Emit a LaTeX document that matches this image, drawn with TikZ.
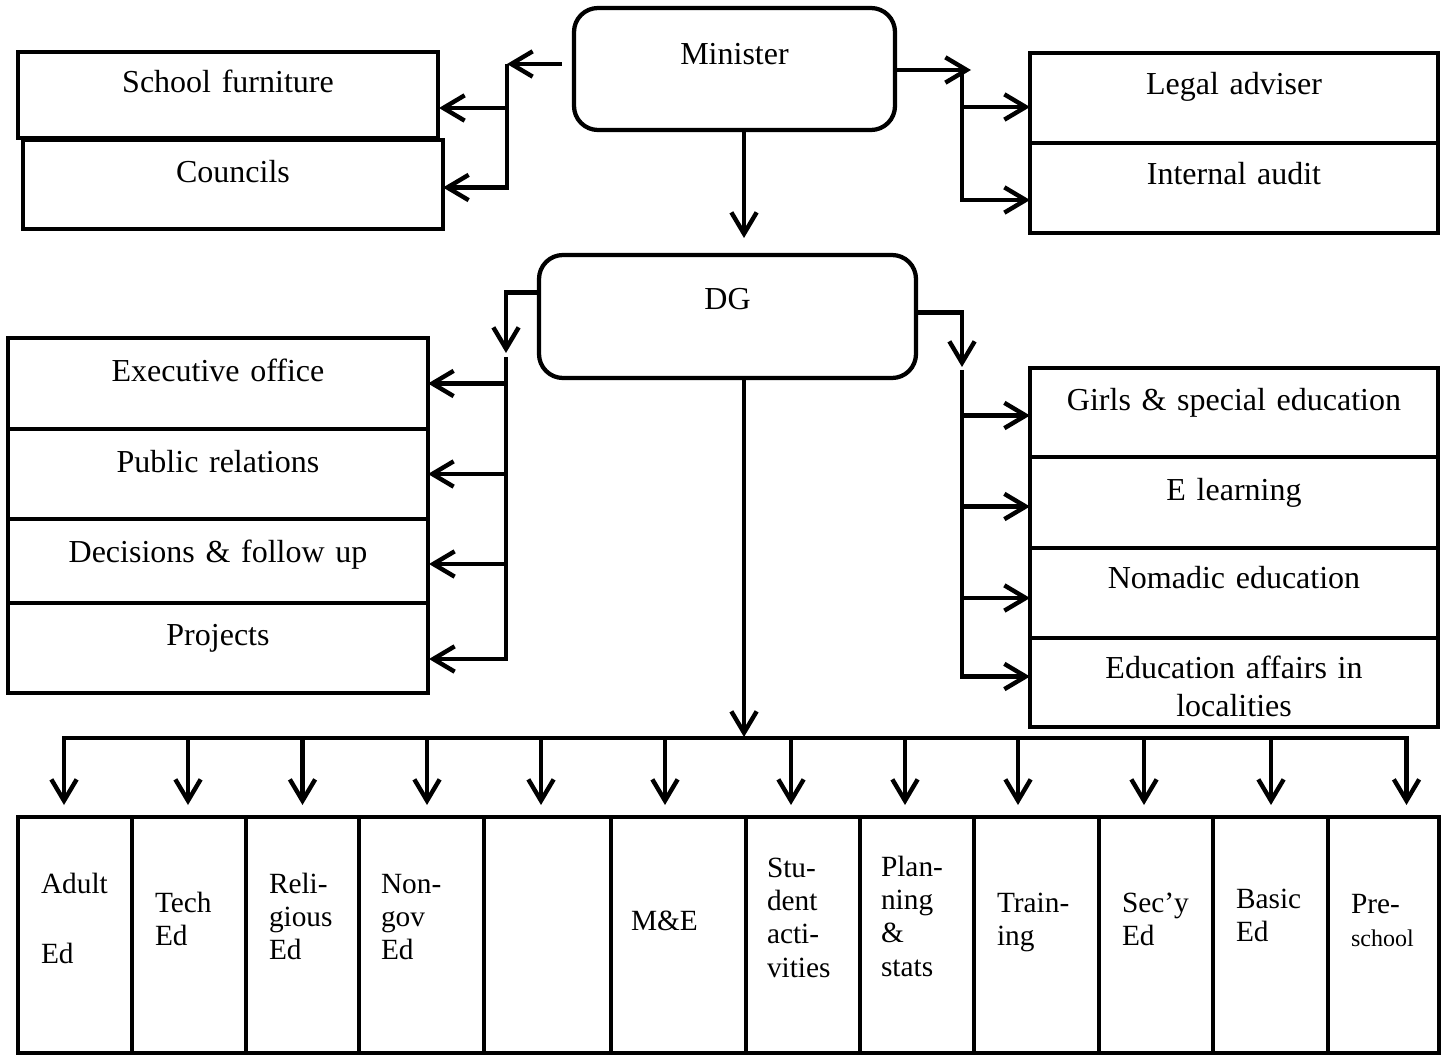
\documentclass[tikz,border=0pt]{standalone}
\usepackage{fontspec}
\setmainfont{Liberation Serif}
\usetikzlibrary{arrows.meta,calc}
\tikzset{
  geo/.code n args={3}{%
    \pgfmathsetmacro\gW{#1*0.75}%
    \pgfmathsetmacro\gT{#3*0.75}%
    \pgfmathsetmacro\gD{(#2-#3)*0.75}%
    \edef\gtmp{\noexpand\pgfkeysalso{minimum width=\gW pt,text width=\gW pt,text height=\gT pt,text depth=\gD pt}}\gtmp},
  geob/.code n args={4}{%
    \pgfmathsetmacro\gW{#1*0.75}%
    \pgfmathsetmacro\gTW{(#1-2*#4)*0.75}%
    \pgfmathsetmacro\gP{#4*0.75}%
    \pgfmathsetmacro\gT{#3*0.75}%
    \pgfmathsetmacro\gD{(#2-#3)*0.75}%
    \edef\gtmp{\noexpand\pgfkeysalso{minimum width=\gW pt,text width=\gTW pt,inner xsep=\gP pt,text height=\gT pt,text depth=\gD pt}}\gtmp},
  box/.style={draw, line width=3.6pt, rectangle, anchor=north west, inner sep=0pt, outer sep=0pt, align=center, font=\fontsize{24}{28.5}\selectfont},
  rbox/.style={draw, line width=3.2pt, rectangle, rounded corners=18pt, anchor=north west, inner sep=0pt, outer sep=0pt, align=center, font=\fontsize{24}{28.5}\selectfont},
  sbox/.style={draw, line width=3.6pt, rectangle, anchor=north west, inner ysep=0pt, outer sep=0pt, align=left, font=\fontsize{22}{25}\selectfont\hyphenpenalty10000},
  conn/.style={line width=3.3pt},
  arr/.style={line width=3.3pt, -{Straight Barb[length=16pt,width=19pt]}},
  arrtwo/.style={line width=3.3pt, {Straight Barb[length=16pt,width=19pt]}-{Straight Barb[length=16pt,width=19pt]}}
}
\begin{document}
\begin{tikzpicture}[x=0.75pt,y=-0.75pt]
\useasboundingbox (0,0) rectangle (1445,1055);

% top level
\node[rbox, geo={321}{122}{57}] (minister) at (574,8) {Minister};
\node[box, geo={420}{86}{41}] (sf) at (18,52) {School furniture};
\node[box, geo={420}{89}{43}] (co) at (23,140) {Councils};
\node[box, geo={408}{90}{42}] (la) at (1030,53) {Legal adviser};
\node[box, geo={408}{90}{42}] (ia) at (1030,143) {Internal audit};

% DG level
\node[rbox, geo={377}{123}{55}] (dg) at (539,255) {DG};
\node[box, geo={420}{91}{44}] (eo) at (8,338) {Executive office};
\node[box, geo={420}{90}{43}] (pr) at (8,429) {Public relations};
\node[box, geo={420}{84}{43}] (df) at (8,519) {Decisions \& follow up};
\node[box, geo={420}{90}{42}] (pj) at (8,603) {Projects};
\node[box, geo={408}{89}{42}] (gs) at (1030,368) {Girls \& special education};
\node[box, geo={408}{91}{43}] (el) at (1030,457) {E learning};
\node[box, geo={408}{90}{40}] (ne) at (1030,548) {Nomadic education};
\node[box, geo={408}{89}{40}] (ea) at (1030,638) {Education affairs in\\localities};

% bottom row
\node[sbox, geob={114}{236}{76}{23}] (b1) at (18,817) {Adult\\[28pt]Ed};
\node[sbox, geob={114}{236}{95}{23}] (b2) at (132,817) {Tech\\Ed};
\node[sbox, geob={113}{236}{76}{23}] (b3) at (246,817) {Reli-\\gious\\Ed};
\node[sbox, geob={125}{236}{76}{22}] (b4) at (359,817) {Non-\\gov\\Ed};
\node[sbox, geob={127}{236}{76}{20}] (b5) at (484,817) {};
\node[sbox, geob={135}{236}{113}{20}] (b6) at (611,817) {M\&E};
\node[sbox, geob={114}{236}{60}{21}] (b7) at (746,817) {Stu-\\dent\\acti-\\vities};
\node[sbox, geob={114}{236}{59}{21}] (b8) at (860,817) {Plan-\\ning\\\&\\stats};
\node[sbox, geob={125}{236}{95}{23}] (b9) at (974,817) {Train-\\ing};
\node[sbox, geob={114}{236}{95}{23}] (b10) at (1099,817) {Sec’y\\Ed};
\node[sbox, geob={115}{236}{91}{23}] (b11) at (1213,817) {Basic\\Ed};
\node[sbox, geob={111}{236}{96}{23}] (b12) at (1328,817) {Pre-\\{\fontsize{18}{25}\selectfont school}};

% Minister -> left group
\coordinate (mL) at (507,64);
\coordinate (sfA) at ($(sf.east)+(1,13)$);
\coordinate (coA) at ($(co.east)+(0,3)$);
\draw[arr] ($(minister.west)+(-12,-5)$) -- (mL);
\draw[arr] (mL) |- (coA);
\draw[arr] (mL |- sfA) -- (sfA);

% Minister -> right group
\coordinate (mR) at (962,70);
\coordinate (laA) at ($(la.west)+(0,9)$);
\coordinate (iaA) at ($(ia.west)+(0,12)$);
\draw[arr] ($(minister.east)+(0,1)$) -- ($(mR)+(9,0)$);
\draw[arr] (mR) |- (iaA);
\draw[arr] (mR |- laA) -- (laA);

% Minister -> DG
\coordinate (dgT) at ($(dg.north)+(16.5,-17)$);
\draw[arr] (minister.south -| dgT) -- (dgT);

% DG -> left group
\coordinate (dL) at (506,357);
\coordinate (pjA) at ($(pj.east)+(1,11)$);
\coordinate (dfA) at ($(df.east)+(1,3)$);
\draw[arr] ($(dg.west)+(0,-24)$) -| ($(dL)+(0,-4)$);
\draw[arr] (dL) |- (pjA);
\draw[arr] (dL |- eo.east) -- (eo.east);
\draw[arr] (dL |- pr.east) -- (pr.east);
\draw[arr] (dL |- dfA) -- (dfA);

% DG -> right group
\coordinate (dR) at (962,370);
\coordinate (gsA) at ($(gs.west)+(0,3)$);
\coordinate (elA) at ($(el.west)+(0,4)$);
\coordinate (neA) at ($(ne.west)+(0,5)$);
\coordinate (eaA) at ($(ea.west)+(0,-6)$);
\draw[arr] ($(dg.east)+(0,-4)$) -| ($(dR)+(0,-3)$);
\draw[arr] (dR) |- (eaA);
\draw[arr] (dR |- gsA) -- (gsA);
\draw[arr] (dR |- elA) -- (elA);
\draw[arr] (dR |- neA) -- (neA);

% DG -> bottom row
\coordinate (bus) at (744,738);
\draw[arr] (dg.south -| bus) -- ($(bus)+(0,-1)$);
\foreach \i/\dx in {1/-11,2/-1,3/0,4/5.5,5/-6.5,6/-13.5,7/-12,8/-12,9/-18.5,10/-12,11/0.5,12/23}{
  \coordinate (t\i) at ($(b\i.north)+(\dx,-12)$);
}
\draw[arrtwo] (t1) -- (t1 |- bus) -- (t12 |- bus) -- (t12);
\foreach \i in {2,...,11}{
  \draw[arr] (t\i |- bus) -- (t\i);
}
\end{tikzpicture}
\end{document}
